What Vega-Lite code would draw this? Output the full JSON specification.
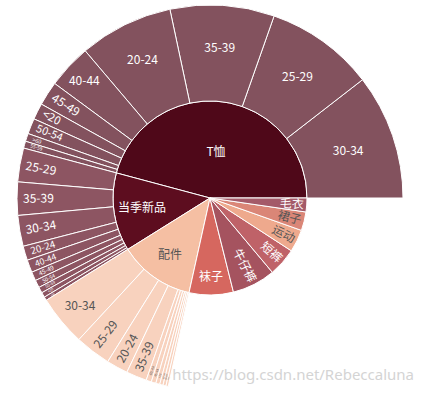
{
  "$schema": "https://vega.github.io/schema/vega-lite/v6.json",
  "width": 422,
  "height": 398,
  "autosize": {"type": "fit", "contains": "padding"},
  "padding": {"left": 0, "top": 0, "right": 2, "bottom": 2},
  "background": "white",
  "config": {"view": {"stroke": null}, "font": "Noto Sans CJK SC"},
  "title": {"text": "https://blog.csdn.net/Rebeccaluna", "orient": "bottom", "anchor": "end", "offset": -28, "dx": -6, "fontSize": 15, "fontWeight": "normal", "color": "#d4d4d4", "font": "Noto Sans"},
  "data": {"values": [
    {"name": "T恤", "parent": "", "value": 165},
    {"name": "当季新品", "parent": "", "value": 47},
    {"name": "配件", "parent": "", "value": 45.5},
    {"name": "袜子", "parent": "", "value": 26.5},
    {"name": "牛仔裤", "parent": "", "value": 26},
    {"name": "短裤", "parent": "", "value": 17},
    {"name": "运动", "parent": "", "value": 13.5},
    {"name": "裙子", "parent": "", "value": 11.2},
    {"name": "毛衣", "parent": "", "value": 8.3},
    {"name": "30-34", "parent": "T恤", "value": 37.8},
    {"name": "25-29", "parent": "T恤", "value": 32.8},
    {"name": "35-39", "parent": "T恤", "value": 31.4},
    {"name": "20-24", "parent": "T恤", "value": 28.3},
    {"name": "40-44", "parent": "T恤", "value": 13.3},
    {"name": "45-49", "parent": "T恤", "value": 7.3},
    {"name": "<20", "parent": "T恤", "value": 4.9},
    {"name": "50-54", "parent": "T恤", "value": 4.7},
    {"name": ">60", "parent": "T恤", "value": 2.4},
    {"name": "55-59", "parent": "T恤", "value": 2.1},
    {"name": "25-29", "parent": "当季新品", "value": 10.2},
    {"name": "35-39", "parent": "当季新品", "value": 10.0},
    {"name": "30-34", "parent": "当季新品", "value": 9.3},
    {"name": "20-24", "parent": "当季新品", "value": 4.3},
    {"name": "40-44", "parent": "当季新品", "value": 3.8},
    {"name": "45-49", "parent": "当季新品", "value": 2.7},
    {"name": "50-54", "parent": "当季新品", "value": 2.3},
    {"name": "55-59", "parent": "当季新品", "value": 1.8},
    {"name": "<20", "parent": "当季新品", "value": 1.5},
    {"name": ">60", "parent": "当季新品", "value": 1.1},
    {"name": "30-34", "parent": "配件", "value": 15.2},
    {"name": "25-29", "parent": "配件", "value": 10.8},
    {"name": "20-24", "parent": "配件", "value": 6.5},
    {"name": "35-39", "parent": "配件", "value": 6.2},
    {"name": "40-44", "parent": "配件", "value": 1.6},
    {"name": "45-49", "parent": "配件", "value": 1.4},
    {"name": "<20", "parent": "配件", "value": 1.2},
    {"name": "50-54", "parent": "配件", "value": 1.0},
    {"name": "55-59", "parent": "配件", "value": 0.9},
    {"name": ">60", "parent": "配件", "value": 0.7}
  ]},
  "transform": [
    {"calculate": "datum.parent ? datum.parent : datum.name", "as": "branch"},
    {"calculate": "datum.parent ? 2 : 1", "as": "level"},
    {"joinaggregate": [{"op": "count", "as": "n"}, {"op": "max", "field": "value", "as": "btot"}], "groupby": ["branch"]},
    {"calculate": "(datum.level == 2 || datum.n == 1) ? 1 : 0", "as": "ring2"},
    {"stack": "value", "groupby": ["level"], "sort": [{"field": "btot", "order": "descending"}, {"field": "value", "order": "descending"}], "as": ["a0", "a1"]},
    {"stack": "value", "groupby": ["ring2"], "sort": [{"field": "btot", "order": "descending"}, {"field": "value", "order": "descending"}], "as": ["b0", "b1"]},
    {"calculate": "datum.level == 1 ? datum.a0 : datum.b0", "as": "t0"},
    {"calculate": "datum.level == 1 ? datum.a1 : datum.b1", "as": "t1"},
    {"calculate": "(datum.t0 + datum.t1) / 2", "as": "mid"},
    {"calculate": "datum.t1 - datum.t0", "as": "span"},
    {"calculate": "datum.level == 1 ? (datum.span * 1.05 >= length(datum.name) * 12) : (datum.span * 2.53 >= length(datum.name) * 6.5)", "as": "horiz"},
    {"calculate": "datum.mid < 90 || datum.mid > 270", "as": "rightside"},
    {"calculate": "datum.rightside ? -datum.mid : 180 - datum.mid", "as": "rot"}
  ],
  "layer": [
    {
      "transform": [{"filter": "datum.level == 1"}],
      "mark": {"type": "arc", "radius": 97, "radius2": 0, "stroke": "#ffffff", "strokeWidth": 1},
      "encoding": {
        "theta": {"field": "t0", "type": "quantitative", "stack": null, "scale": {"domain": [0, 360], "range": [1.5707963, -4.712389]}},
        "theta2": {"field": "t1"},
        "fill": {"field": "branch", "type": "nominal", "legend": null, "scale": {"domain": ["T恤", "当季新品", "配件", "袜子", "牛仔裤", "短裤", "运动", "裙子", "毛衣"], "range": ["#4f0819", "#5d0d1f", "#f5bfa3", "#d6675f", "#a5535f", "#bf6268", "#eea98d", "#da8677", "#a45a69"]}}
      }
    },
    {
      "transform": [{"filter": "datum.level == 2"}],
      "mark": {"type": "arc", "radius": 193, "radius2": 97, "stroke": "#ffffff", "strokeWidth": 1, "fillOpacity": 0.7},
      "encoding": {
        "theta": {"field": "t0", "type": "quantitative", "stack": null, "scale": {"domain": [0, 360], "range": [1.5707963, -4.712389]}},
        "theta2": {"field": "t1"},
        "fill": {"field": "branch", "type": "nominal", "legend": null, "scale": {"domain": ["T恤", "当季新品", "配件", "袜子", "牛仔裤", "短裤", "运动", "裙子", "毛衣"], "range": ["#4f0819", "#5d0d1f", "#f5bfa3", "#d6675f", "#a5535f", "#bf6268", "#eea98d", "#da8677", "#a45a69"]}}
      }
    },
    {
      "transform": [{"filter": "datum.level == 1 && datum.horiz"}],
      "mark": {"type": "text", "align": "center", "baseline": "middle"},
      "encoding": {
        "theta": {"field": "mid", "type": "quantitative", "stack": null, "scale": {"domain": [0, 360], "range": [1.5707963, -4.712389]}},
        "radius": {"field": "value", "type": "quantitative", "scale": {"type": "log", "zero": false, "domain": [26.5, 165], "range": [79, 46]}},
        "text": {"field": "name"},
        "size": {"field": "span", "type": "quantitative", "legend": null, "scale": {"domain": [0, 5.2], "range": [0, 12], "clamp": true}},
        "color": {"field": "branch", "type": "nominal", "legend": null, "scale": {"domain": ["T恤", "当季新品", "配件", "袜子", "牛仔裤", "短裤", "运动", "裙子", "毛衣"], "range": ["#ffffff", "#ffffff", "#555555", "#ffffff", "#ffffff", "#ffffff", "#555555", "#555555", "#ffffff"]}}
      }
    },
    {
      "transform": [{"filter": "datum.level == 2 && datum.horiz"}],
      "mark": {"type": "text", "align": "center", "baseline": "middle"},
      "encoding": {
        "theta": {"field": "mid", "type": "quantitative", "stack": null, "scale": {"domain": [0, 360], "range": [1.5707963, -4.712389]}},
        "radius": {"field": "value", "type": "quantitative", "scale": {"type": "log", "zero": false, "domain": [13.3, 37.8], "range": [172, 146]}},
        "text": {"field": "name"},
        "size": {"field": "span", "type": "quantitative", "legend": null, "scale": {"domain": [0, 5.2], "range": [0, 12], "clamp": true}},
        "color": {"field": "branch", "type": "nominal", "legend": null, "scale": {"domain": ["T恤", "当季新品", "配件", "袜子", "牛仔裤", "短裤", "运动", "裙子", "毛衣"], "range": ["#ffffff", "#ffffff", "#555555", "#ffffff", "#ffffff", "#ffffff", "#555555", "#555555", "#ffffff"]}}
      }
    },
    {
      "transform": [{"filter": "datum.level == 1 && !datum.horiz && datum.rightside"}],
      "mark": {"type": "text", "align": "right", "baseline": "middle", "radius": 94},
      "encoding": {
        "theta": {"field": "mid", "type": "quantitative", "stack": null, "scale": {"domain": [0, 360], "range": [1.5707963, -4.712389]}},
        "angle": {"field": "rot", "type": "quantitative", "scale": null},
        "text": {"field": "name"},
        "size": {"field": "span", "type": "quantitative", "legend": null, "scale": {"domain": [0, 5.2], "range": [0, 12], "clamp": true}},
        "color": {"field": "branch", "type": "nominal", "legend": null, "scale": {"domain": ["T恤", "当季新品", "配件", "袜子", "牛仔裤", "短裤", "运动", "裙子", "毛衣"], "range": ["#ffffff", "#ffffff", "#555555", "#ffffff", "#ffffff", "#ffffff", "#555555", "#555555", "#ffffff"]}}
      }
    },
    {
      "transform": [{"filter": "datum.level == 2 && !datum.horiz && !datum.rightside"}],
      "mark": {"type": "text", "align": "left", "baseline": "middle", "radius": 187},
      "encoding": {
        "theta": {"field": "mid", "type": "quantitative", "stack": null, "scale": {"domain": [0, 360], "range": [1.5707963, -4.712389]}},
        "angle": {"field": "rot", "type": "quantitative", "scale": null},
        "text": {"field": "name"},
        "size": {"field": "span", "type": "quantitative", "legend": null, "scale": {"domain": [0, 5.2], "range": [0, 12], "clamp": true}},
        "color": {"field": "branch", "type": "nominal", "legend": null, "scale": {"domain": ["T恤", "当季新品", "配件", "袜子", "牛仔裤", "短裤", "运动", "裙子", "毛衣"], "range": ["#ffffff", "#ffffff", "#555555", "#ffffff", "#ffffff", "#ffffff", "#555555", "#555555", "#ffffff"]}}
      }
    }
  ],
  "resolve": {"scale": {"radius": "independent"}}
}
